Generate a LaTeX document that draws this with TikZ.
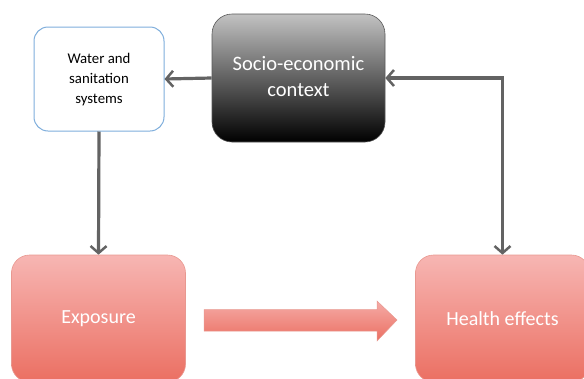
\documentclass[tikz,border=0pt]{standalone}
\usepackage{fontspec}
\setmainfont{Carlito}
\usetikzlibrary{arrows.meta}
\definecolor{linegray}{HTML}{636363}
\definecolor{pinktop}{HTML}{F7B6B3}
\definecolor{pinkbot}{HTML}{EB6F62}
\definecolor{pinkedge}{HTML}{E89890}
\definecolor{bluebd}{HTML}{7FAEDC}
\tikzset{
  barb/.tip={Straight Barb[length=7pt,width=16pt,line width=2.5pt]},
  conn/.style={draw=linegray, line width=3.2pt, -barb},
  pinkbox/.style={rectangle, rounded corners=18pt, draw=pinkedge, line width=0.6pt,
     top color=pinktop, bottom color=pinkbot, text=white, font=\fontsize{20}{24}\selectfont,
     minimum width=174pt, minimum height=127pt},
}
\begin{document}
\begin{tikzpicture}[x=1pt,y=-1pt]
\useasboundingbox (0,0) rectangle (584,378);
\node[rectangle, rounded corners=14pt, draw=bluebd, line width=1pt, fill=white,
  minimum width=130pt, minimum height=104pt,
  font=\fontsize{14.8}{20}\selectfont] (water) at (99,79)
  {\raisebox{-3pt}{\begin{tabular}{@{}c@{}}Water and\\sanitation\\systems\end{tabular}}};
\node[rectangle, rounded corners=20pt, draw=gray!70!black, line width=0.6pt,
  top color=black!24, bottom color=black,
  minimum width=173pt, minimum height=128pt, text=white,
  font=\fontsize{20.5}{26}\selectfont] (socio) at (298.5,78)
  {\raisebox{-3pt}{\begin{tabular}{@{}c@{}}Socio-economic\\context\end{tabular}}};
\node[pinkbox] (expo) at (98.5,318.5) {\raisebox{-3pt}{Exposure}};
\node[pinkbox] (health) at (502.5,318.5) {\raisebox{-2pt}{Health effects}};
\coordinate (corner) at (health.north |- socio.east);
\draw[conn] (socio.west) -- (water.east);
\draw[conn] (water.south) -- (expo.north);
\draw[conn, barb-barb] (socio.east) -- (corner) -- (health.north);
\shade[top color=pinktop!85!pinkbot, bottom color=pinkbot, draw=pinkedge, line width=0.5pt]
  (204,309.5) -- (377,309.5) -- (377,301) -- (397,320) -- (377,341) -- (377,331) -- (204,331) -- cycle;
\end{tikzpicture}
\end{document}
